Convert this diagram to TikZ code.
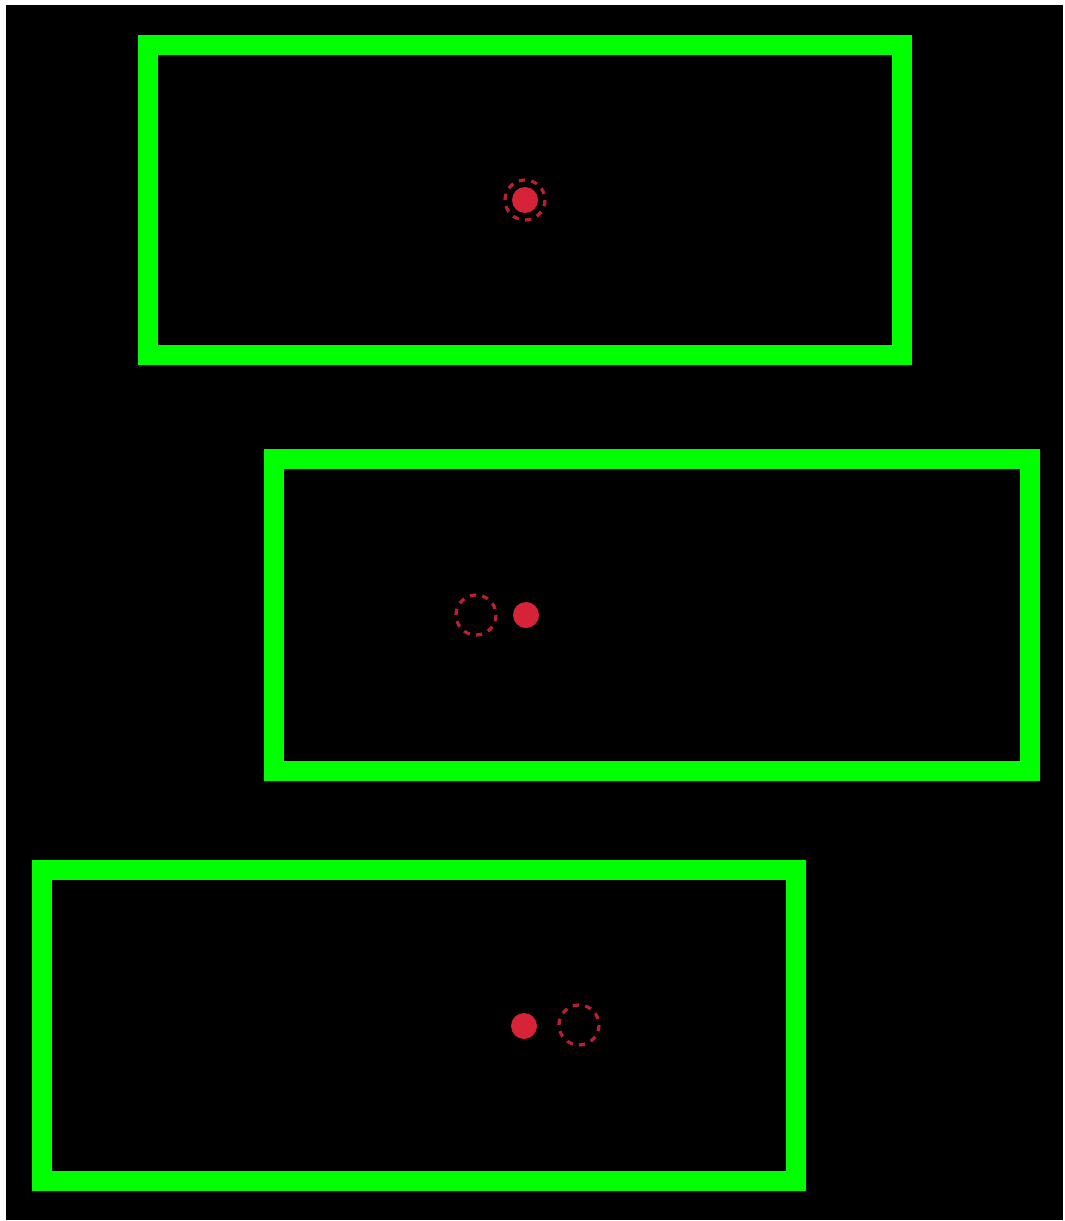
\documentclass[tikz,border=0pt]{standalone}
\usepackage{xcolor}
\usepackage{tikz}
\definecolor{scgreen}{RGB}{0,255,0}
\definecolor{scred}{RGB}{215,35,55}
\definecolor{scdash}{RGB}{190,30,50}

\begin{document}
\begin{tikzpicture}[
  x=1pt,y=-1pt,
  frame/.style={draw=scgreen,line width=20pt},
  dot/.style={fill=scred},
  ghost/.style={draw=scdash,line width=3.2pt,dash pattern=on 6.28pt off 6.28pt}]
\useasboundingbox[fill=white] (0,0) rectangle (1065,1221);
\fill[black] (6,5) rectangle (1063,1220);
% top: object at rest
\draw[frame] (148,45) rectangle (902,355);
\fill[dot] (525,200) circle (13);
\draw[ghost] (525,200) circle (20);
% middle: frame shifted right
\draw[frame] (273.5,459) rectangle (1029.5,770.5);
\draw[ghost] (476,615) circle (20);
\fill[dot] (526,615) circle (13);
% bottom: frame shifted left
\draw[frame] (41.5,869.5) rectangle (796,1181);
\fill[dot] (524,1026) circle (13);
\draw[ghost] (579,1025) circle (20);
\end{tikzpicture}
\end{document}
